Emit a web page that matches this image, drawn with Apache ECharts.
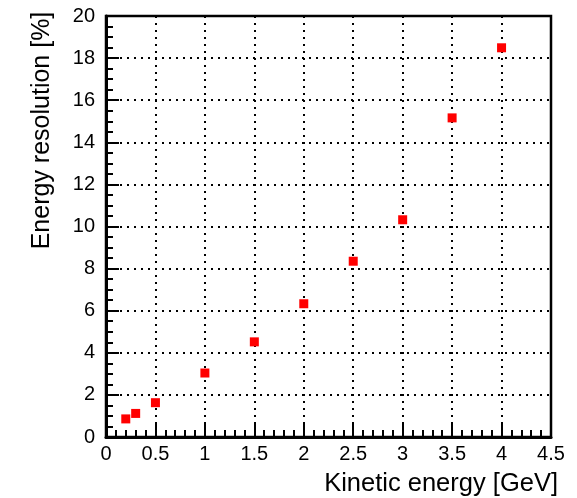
<!DOCTYPE html>
<html>
<head>
<meta charset="utf-8">
<script src="https://cdn.jsdelivr.net/npm/echarts@6/dist/echarts.min.js"></script>
<style>html,body{margin:0;padding:0;background:#fff;}#c{width:577px;height:498px;}</style>
</head>
<body>
<div id="c"></div>
<script>
var energies = [0.2, 0.3, 0.5, 1, 1.5, 2, 2.5, 3, 3.5, 4];
var resolution = [0.86, 1.12, 1.63, 3.04, 4.52, 6.33, 8.35, 10.32, 15.16, 18.49];
var xTitle = 'Kinetic energy [GeV]';
var yTitle = 'Energy resolution [%]';

var FONT = "'Liberation Sans', Arial, Helvetica, sans-serif";
var chart = echarts.init(document.getElementById('c'));
chart.setOption({
  animation: false,
  grid: {left: 106, right: 26, top: 16, bottom: 61, show: true, borderColor: '#000', borderWidth: 2.5},
  xAxis: {
    type: 'value', min: 0, max: 4.5, interval: 0.5,
    name: xTitle, nameLocation: 'end', nameGap: 7,
    nameTextStyle: {color: '#000', fontSize: 25.5, fontFamily: FONT, align: 'right', verticalAlign: 'top', padding: [34, 0, 0, 0]},
    axisLine: {show: true, lineStyle: {color: '#000', width: 3}},
    axisTick: {show: true, inside: true, length: 13, lineStyle: {color: '#000', width: 2}},
    minorTick: {show: true, splitNumber: 5, length: 7, lineStyle: {color: '#000', width: 2}},
    axisLabel: {color: '#000', fontSize: 20, fontFamily: FONT, margin: 7},
    splitLine: {show: true, lineStyle: {color: '#000', width: 2, type: [2, 5]}}
  },
  yAxis: {
    type: 'value', min: 0, max: 20, interval: 2,
    name: '{s| }{t|' + yTitle + '}', nameLocation: 'middle', nameGap: 64, nameRotate: 90,
    nameTextStyle: {
      color: '#000', fontSize: 25, fontFamily: FONT, align: 'center', verticalAlign: 'middle',
      rich: {
        s: {width: 192, fontSize: 25, fontFamily: FONT},
        t: {color: '#000', fontSize: 25, fontFamily: FONT}
      }
    },
    axisLine: {show: true, lineStyle: {color: '#000', width: 3}},
    axisTick: {show: true, inside: true, length: 13, lineStyle: {color: '#000', width: 2}},
    minorTick: {show: true, splitNumber: 4, length: 7, lineStyle: {color: '#000', width: 2}},
    axisLabel: {color: '#000', fontSize: 20, fontFamily: FONT, margin: 11},
    splitLine: {show: true, lineStyle: {color: '#000', width: 2, type: [2, 5]}}
  },
  series: [{
    type: 'scatter',
    symbol: 'rect',
    symbolSize: 9,
    itemStyle: {color: '#ff0000', opacity: 1},
    data: energies.map(function (e, i) { return [e, resolution[i]]; })
  }]
});
</script>
</body>
</html>
